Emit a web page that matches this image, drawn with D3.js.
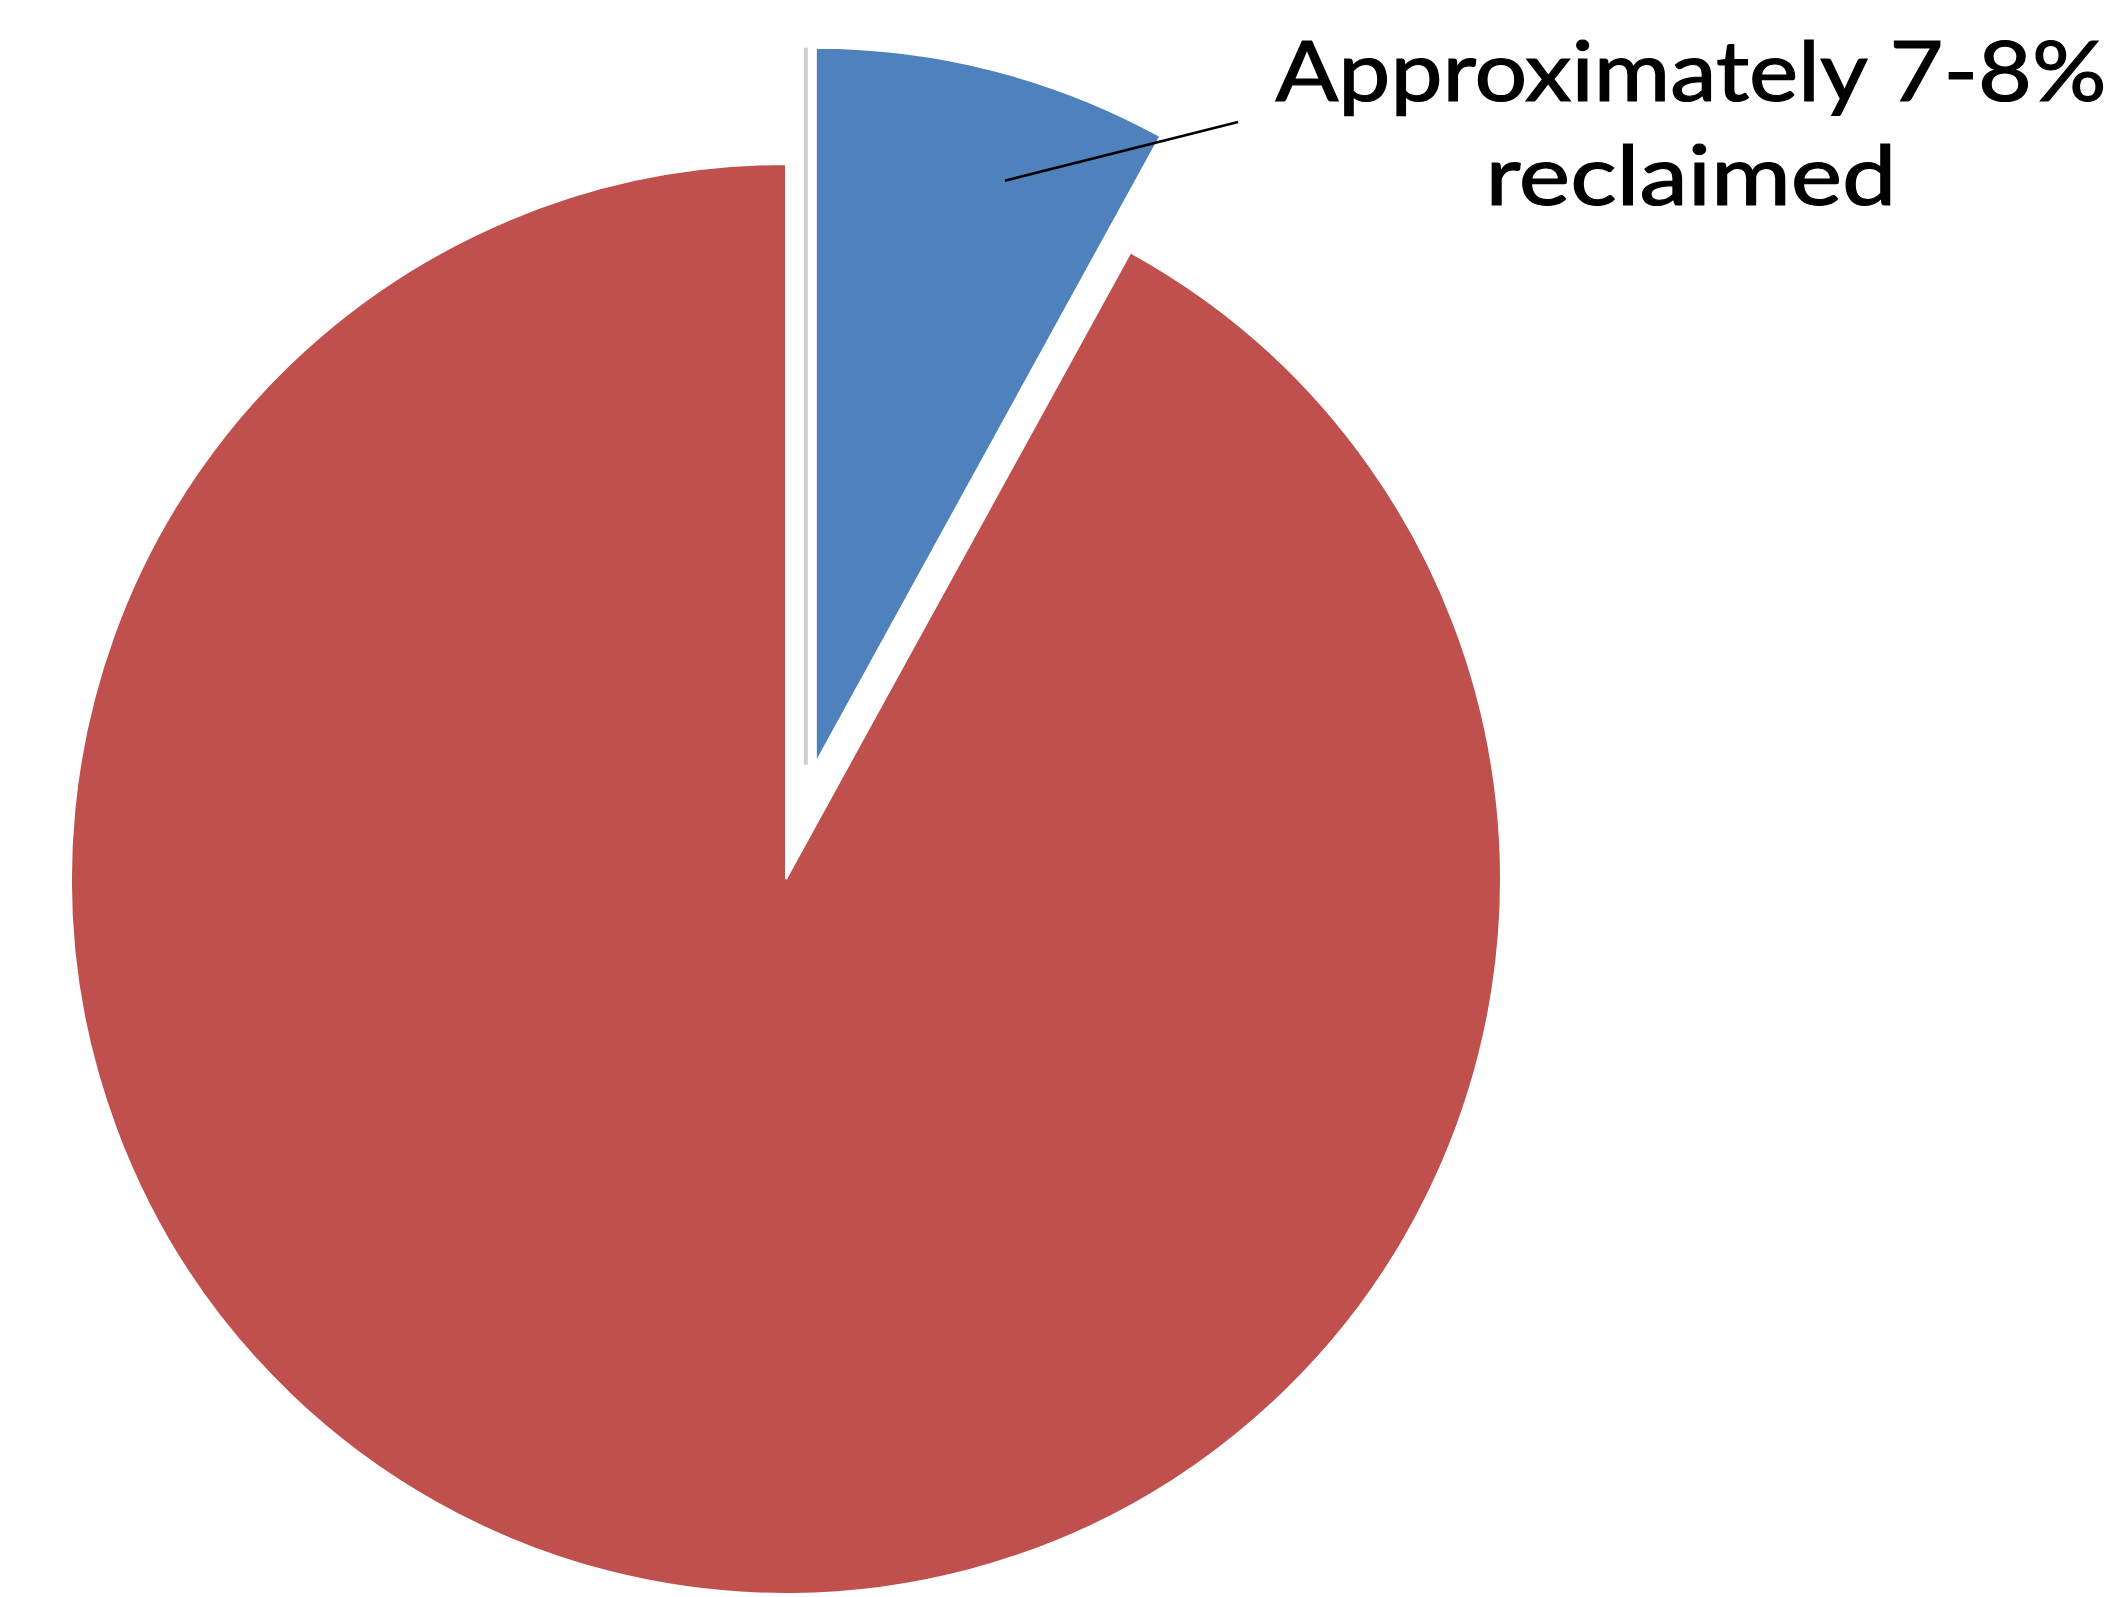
<!DOCTYPE html>
<html>
<head>
<meta charset="utf-8">
<script src="https://cdn.jsdelivr.net/npm/d3@7"></script>
<style>
  body { margin: 0; background: #fff; }
  svg { display: block; }
</style>
</head>
<body>
<div id="chart"></div>
<script>
// share of material reclaimed
const categories = ["Reclaimed", "Not reclaimed"];
const values = [8, 92];
const colors = ["#4F81BD", "#C0504D"];
const labelLines = ["Approximately 7-8%", "reclaimed"];

const width = 2122;
const height = 1597;
const cx = 786;
const cy = 879;
const radius = 715;
const explode = 120;

const svg = d3.select("#chart")
  .append("svg")
  .attr("width", width)
  .attr("height", height);

const g = svg.append("g")
  .attr("transform", `translate(${cx}, ${cy})`);

const pie = d3.pie().sort(null).value((d) => d);
const arcs = pie(values);

const arc = d3.arc().innerRadius(0).outerRadius(radius);

// offset of the exploded slice
function sliceOffset(d, i) {
  if (i !== 0) return [0, 0];
  const mid = (d.startAngle + d.endAngle) / 2;
  return [Math.sin(mid) * explode, -Math.cos(mid) * explode];
}

// slices
g.selectAll("path.slice")
  .data(arcs)
  .enter()
  .append("path")
  .attr("class", "slice")
  .attr("d", arc)
  .attr("transform", (d, i) => `translate(${sliceOffset(d, i)})`)
  .style("fill", (d, i) => colors[i])
  .style("stroke", "#fff")
  .style("stroke-width", 2);

// thin grey edge beside the pulled-out slice
const off = sliceOffset(arcs[0], 0);
g.append("line")
  .attr("x1", off[0] - 10)
  .attr("y1", off[1] + 2)
  .attr("x2", off[0] - 10)
  .attr("y2", off[1] - radius)
  .style("stroke", "#d0d0d0")
  .style("stroke-width", 4);

// leader line
const leadAngle = (18 * Math.PI) / 180;
const leadR = radius * 0.856;
const lx = off[0] + Math.sin(leadAngle) * leadR;
const ly = off[1] - Math.cos(leadAngle) * leadR;
g.append("line")
  .attr("x1", lx)
  .attr("y1", ly)
  .attr("x2", 1238 - cx)
  .attr("y2", 122 - cy)
  .style("stroke", "#000")
  .style("stroke-width", 2.5);

// label, one text per line, stretched to the reference widths
const lineWidths = [831, 411];
svg.selectAll("text.label")
  .data(labelLines)
  .enter()
  .append("text")
  .attr("class", "label")
  .attr("x", 1691)
  .attr("y", (d, i) => 101 + i * 104)
  .attr("text-anchor", "middle")
  .attr("textLength", (d, i) => lineWidths[i])
  .attr("lengthAdjust", "spacingAndGlyphs")
  .style("font-family", "Lato, 'Open Sans', sans-serif")
  .style("font-size", "84px")
  .style("fill", "#000")
  .style("stroke", "#000")
  .style("stroke-width", 1.2)
  .text((d) => d);
</script>
</body>
</html>
